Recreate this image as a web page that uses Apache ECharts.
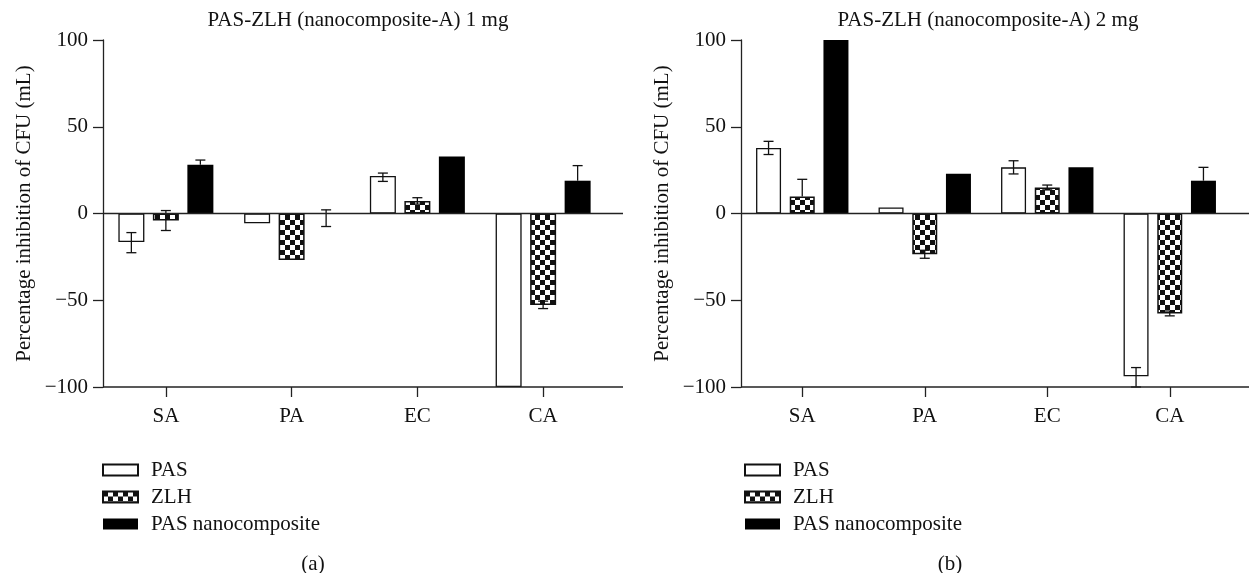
<!DOCTYPE html>
<html>
<head>
<meta charset="utf-8">
<title>PAS-ZLH CFU inhibition</title>
<script src="https://cdn.jsdelivr.net/npm/echarts@6/dist/echarts.min.js"></script>
<style>html,body{margin:0;background:#fff}#chart{width:1250px;height:573px}</style>
</head>
<body>
<div id="chart"></div>
<script>
// 数据：数值
const categories = ["SA", "PA", "EC", "CA"];
const seriesNames = ["PAS", "ZLH", "PAS nanocomposite"];
const yTicks = [-100, -50, 0, 50, 100];

// (a) 1 mg
const pas1 = [-16.4, -5.6, 21.6, -100];
const zlh1 = [-4, -26.8, 7.2, -52.8];
const nano1 = [28.1, 0, 32.8, 18.9];
const pas1Up = [5.4, 0, 1.7, 0];
const pas1Down = [6.2, 0, 3.1, 0];
const zlh1Up = [5.7, 0, 1.9, 2.3];
const zlh1Down = [5.8, 0, 1.8, 2.0];
const nano1Up = [2.7, 2.1, 0, 8.7];
const nano1Down = [0, 7.5, 0, 0];

// (b) 2 mg
const pas2 = [37.8, 3.5, 26.6, -93.8];
const zlh2 = [9.8, -23.5, 15, -57.6];
const nano2 = [100, 22.9, 26.6, 18.9];
const pas2Up = [3.8, 0, 3.8, 5.0];
const pas2Down = [3.8, 0, 3.8, 6.2];
const zlh2Up = [9.9, 2.3, 1.4, 1.4];
const zlh2Down = [0, 2.3, 1.4, 1.4];
const nano2Up = [0, 0, 0, 7.7];
const nano2Down = [0, 0, 0, 0];

// 布局常量
const FONT = "Liberation Serif";
const GRID_TOP = 40;
const GRID_H = 347;
const LINE_W = 1.3;
const panels = [
  { left: 103, width: 503, ext: 17, barW: 26, spacing: 34.5, title: "PAS-ZLH (nanocomposite-A) 1 mg", titleX: 358, tag: "(a)", tagX: 313, legendX: 102,
    vals: [pas1, zlh1, nano1], ups: [pas1Up, zlh1Up, nano1Up], downs: [pas1Down, zlh1Down, nano1Down] },
  { left: 741, width: 490, ext: 18, barW: 25, spacing: 33.7, title: "PAS-ZLH (nanocomposite-A) 2 mg", titleX: 988, tag: "(b)", tagX: 950, legendX: 744,
    vals: [pas2, zlh2, nano2], ups: [pas2Up, zlh2Up, nano2Up], downs: [pas2Down, zlh2Down, nano2Down] },
];

// 棋盘格填充
function checker() {
  const c = document.createElement("canvas");
  c.width = 10; c.height = 10;
  const g = c.getContext("2d");
  g.fillStyle = "#fff"; g.fillRect(0, 0, 10, 10);
  g.fillStyle = "#111"; g.fillRect(0, 0, 5, 5); g.fillRect(5, 5, 5, 5);
  return c;
}
const barStyles = [
  { color: "#fff", borderColor: "#111", borderWidth: 1.3 },
  { color: { image: checker(), repeat: "repeat" }, borderColor: "#111", borderWidth: 1.5 },
  { color: "#000" },
];

const txt = { fontFamily: FONT, fontSize: 21, color: "#111" };
const lineSt = { color: "#222", width: LINE_W };
const grid = [], xAxis = [], yAxis = [], series = [], title = [], legend = [], graphic = [];

panels.forEach((p, pi) => {
  grid.push({ left: p.left, top: GRID_TOP, width: p.width, height: GRID_H });
  // 底部分类轴（轴线本身用 graphic 画，以便延伸到分类区域外）
  xAxis.push({
    type: "category", gridIndex: pi, data: categories,
    axisLine: { show: false, onZero: false },
    axisTick: { show: true, alignWithLabel: true, length: 10, lineStyle: lineSt },
    axisLabel: Object.assign({ margin: 19 }, txt),
  });
  yAxis.push({
    type: "value", gridIndex: pi, min: yTicks[0], max: yTicks[yTicks.length - 1], interval: 50,
    name: "Percentage inhibition of CFU (mL)", nameLocation: "middle", nameGap: 68,
    nameTextStyle: txt,
    axisLine: { show: true, lineStyle: lineSt },
    axisTick: { show: true, length: 10, lineStyle: lineSt },
    axisLabel: Object.assign({ margin: 15, formatter: (v) => String(v).replace("-", "\u2212") }, txt),
    splitLine: { show: false },
  });
  p.vals.forEach((vals, si) => {
    series.push({
      type: "bar", name: seriesNames[si], xAxisIndex: pi, yAxisIndex: pi,
      data: vals, barWidth: p.barW, barGap: ((p.spacing - p.barW) / p.barW * 100) + "%",
      itemStyle: barStyles[si], emphasis: { disabled: true },
    });
  });
  // 误差线
  p.vals.forEach((vals, si) => {
    const offset = (si - 1) * p.spacing;
    series.push({
      type: "custom", xAxisIndex: pi, yAxisIndex: pi, z: 5, silent: true,
      data: vals.map((v, i) => [i, v, p.ups[si][i], p.downs[si][i]]),
      encode: { x: 0, y: 1 },
      renderItem: (params, api) => {
        const i = api.value(0), v = api.value(1), up = api.value(2), dn = api.value(3);
        if (!up && !dn) return;
        const x = api.coord([i, v])[0] + offset;
        const yT = api.coord([i, v + up])[1];
        const yB = api.coord([i, v - dn])[1];
        const st = { stroke: "#111", lineWidth: 1.3 };
        const ch = [{ type: "line", shape: { x1: x, y1: yT, x2: x, y2: yB }, style: st }];
        if (up) ch.push({ type: "line", shape: { x1: x - 5, y1: yT, x2: x + 5, y2: yT }, style: st });
        if (dn) ch.push({ type: "line", shape: { x1: x - 5, y1: yB, x2: x + 5, y2: yB }, style: st });
        return { type: "group", children: ch };
      },
    });
  });
  title.push({ text: p.title, left: p.titleX, top: 10, textAlign: "center", padding: 0,
    textStyle: Object.assign({ fontWeight: "normal" }, txt) });
  title.push({ text: p.tag, left: p.tagX, top: 554, textAlign: "center", padding: 0,
    textStyle: Object.assign({ fontWeight: "normal" }, txt) });
  legend.push({
    orient: "vertical", left: p.legendX, top: 459, padding: 0, itemGap: 5, icon: "rect",
    itemWidth: 35, itemHeight: 11, selectedMode: false, data: seriesNames,
    textStyle: Object.assign({ padding: [0, 0, 0, 8], lineHeight: 22 }, txt),
  });
  // 底轴线与零线：从 y 轴一直画到分类区域外
  const xr = p.left + p.width + p.ext;
  const yBottom = GRID_TOP + GRID_H;
  const yZero = GRID_TOP + GRID_H * (yTicks[yTicks.length - 1] / (yTicks[yTicks.length - 1] - yTicks[0]));
  [yBottom, yZero].forEach((y) => {
    graphic.push({ type: "line", z: 10, shape: { x1: p.left, y1: y, x2: xr, y2: y }, style: { stroke: "#222", lineWidth: LINE_W } });
  });
});

const chart = echarts.init(document.getElementById("chart"), null, { renderer: "canvas" });
chart.setOption({ animation: false, backgroundColor: "#fff", grid, xAxis, yAxis, series, title, legend, graphic });
</script>
</body>
</html>
